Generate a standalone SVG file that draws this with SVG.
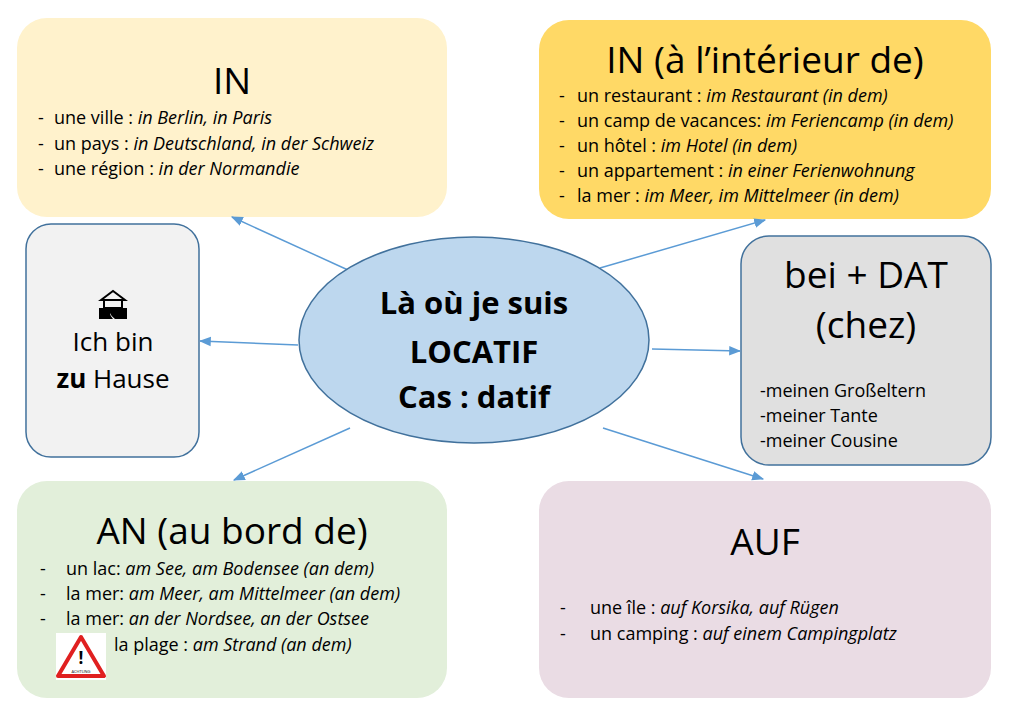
<svg xmlns="http://www.w3.org/2000/svg" width="1024" height="709" viewBox="0 0 1024 709">
<style>
text{font-family:"Open Sans","Liberation Sans",sans-serif;fill:#000}
.t{font-size:37px}
.s{font-size:18px}
.i{font-style:italic}
.c{stroke:#5b9bd5;stroke-width:1.5;fill:none;marker-end:url(#a)}
</style>
<defs><marker id="a" viewBox="0 0 10 10" refX="9" refY="5" markerWidth="8" markerHeight="8" orient="auto"><path d="M0,1 L10,5 L0,9 z" fill="#5b9bd5"/></marker></defs>
<rect width="1024" height="709" fill="#fff"/>
<g id="in1"><rect x="17" y="18" width="430" height="199" rx="30" fill="#fff2cc"/>
<text x="232" y="94" class="t" text-anchor="middle">IN</text>
<text class="s" x="38" y="124">-</text><text class="s" x="54" y="124">une ville : <tspan class="i">in Berlin, in Paris</tspan></text>
<text class="s" x="38" y="150">-</text><text class="s" x="54" y="150">un pays : <tspan class="i">in Deutschland, in der Schweiz</tspan></text>
<text class="s" x="38" y="175">-</text><text class="s" x="54" y="175">une région : <tspan class="i">in der Normandie</tspan></text></g>
<g id="in2"><rect x="539" y="20" width="452" height="199" rx="30" fill="#ffd966"/>
<text x="765" y="73" class="t" text-anchor="middle">IN (à l’intérieur de)</text>
<text class="s" x="559" y="102">-</text><text class="s" x="577" y="102">un restaurant : <tspan class="i">im Restaurant (in dem)</tspan></text>
<text class="s" x="559" y="127">-</text><text class="s" x="577" y="127">un camp de vacances: <tspan class="i">im Feriencamp (in dem)</tspan></text>
<text class="s" x="559" y="152">-</text><text class="s" x="577" y="152">un hôtel : <tspan class="i">im Hotel (in dem)</tspan></text>
<text class="s" x="559" y="177">-</text><text class="s" x="577" y="177">un appartement : <tspan class="i">in einer Ferienwohnung</tspan></text>
<text class="s" x="559" y="202">-</text><text class="s" x="577" y="202">la mer : <tspan class="i">im Meer, im Mittelmeer (in dem)</tspan></text></g>
<g id="home"><rect x="26" y="224" width="173" height="233" rx="25" fill="#f2f2f2" stroke="#41719c" stroke-width="1.5"/>
<path d="M101,300 L113,291 L125,300 Z M104,300 h18 v8 h-18 z" fill="none" stroke="#000" stroke-width="2"/>
<path d="M99,308 h28 v11 h-12 q-8,-6 -4,-11 q-3,6 2,11 h-14 z" fill="#000"/>
<text x="113" y="351" font-size="26" text-anchor="middle">Ich bin</text>
<text x="113" y="388" font-size="26" text-anchor="middle"><tspan font-weight="bold">zu</tspan> Hause</text></g>
<g id="bei"><rect x="741" y="236" width="250" height="229" rx="28" fill="#e0e0e0" stroke="#41719c" stroke-width="1.5"/>
<text x="866" y="288" class="t" text-anchor="middle">bei + DAT</text>
<text x="866" y="338" class="t" text-anchor="middle">(chez)</text>
<text class="s" x="760" y="397">-meinen Großeltern</text>
<text class="s" x="760" y="422">-meiner Tante</text>
<text class="s" x="760" y="447">-meiner Cousine</text></g>
<g id="an"><rect x="17" y="481" width="430" height="217" rx="30" fill="#e2efda"/>
<text x="232" y="544" class="t" text-anchor="middle">AN (au bord de)</text>
<text class="s" x="40" y="575">-</text><text class="s" x="66" y="575">un lac: <tspan class="i">am See, am Bodensee (an dem)</tspan></text>
<text class="s" x="40" y="600">-</text><text class="s" x="66" y="600">la mer: <tspan class="i">am Meer, am Mittelmeer (an dem)</tspan></text>
<text class="s" x="40" y="625">-</text><text class="s" x="66" y="625">la mer: <tspan class="i">an der Nordsee, an der Ostsee</tspan></text>
<text class="s" x="114" y="651">la plage : <tspan class="i">am Strand (an dem)</tspan></text>
<rect x="56" y="633" width="50" height="47" fill="#fff"/>
<path d="M81,637 L104,676 L58,676 Z" fill="#fff" stroke="#e02020" stroke-width="4" stroke-linejoin="round"/>
<text x="81" y="664" font-size="17" font-weight="bold" text-anchor="middle">!</text>
<text x="81" y="673" font-size="4" text-anchor="middle">ACHTUNG</text></g>
<g id="auf"><rect x="539" y="481" width="452" height="217" rx="30" fill="#eadce4"/>
<text x="765" y="555" class="t" text-anchor="middle">AUF</text>
<text class="s" x="560" y="614">-</text><text class="s" x="590" y="614">une île : <tspan class="i">auf Korsika, auf Rügen</tspan></text>
<text class="s" x="560" y="640">-</text><text class="s" x="590" y="640">un camping : <tspan class="i">auf einem Campingplatz</tspan></text></g>
<g id="edges">
<line class="c" x1="348" y1="270" x2="232" y2="217"/>
<line class="c" x1="600" y1="268" x2="765" y2="220"/>
<line class="c" x1="298" y1="345" x2="200" y2="341"/>
<line class="c" x1="652" y1="349" x2="740" y2="351"/>
<line class="c" x1="350" y1="428" x2="234" y2="480"/>
<line class="c" x1="603" y1="428" x2="763" y2="479"/>
</g>
<g id="center"><ellipse cx="474" cy="340" rx="175" ry="103" fill="#bdd7ee" stroke="#41719c" stroke-width="1.5"/>
<text x="474" y="314" font-size="31" font-weight="bold" text-anchor="middle">Là où je suis</text>
<text x="474" y="363" font-size="31" font-weight="bold" text-anchor="middle">LOCATIF</text>
<text x="474" y="408" font-size="31" font-weight="bold" text-anchor="middle">Cas : datif</text></g>
</svg>
